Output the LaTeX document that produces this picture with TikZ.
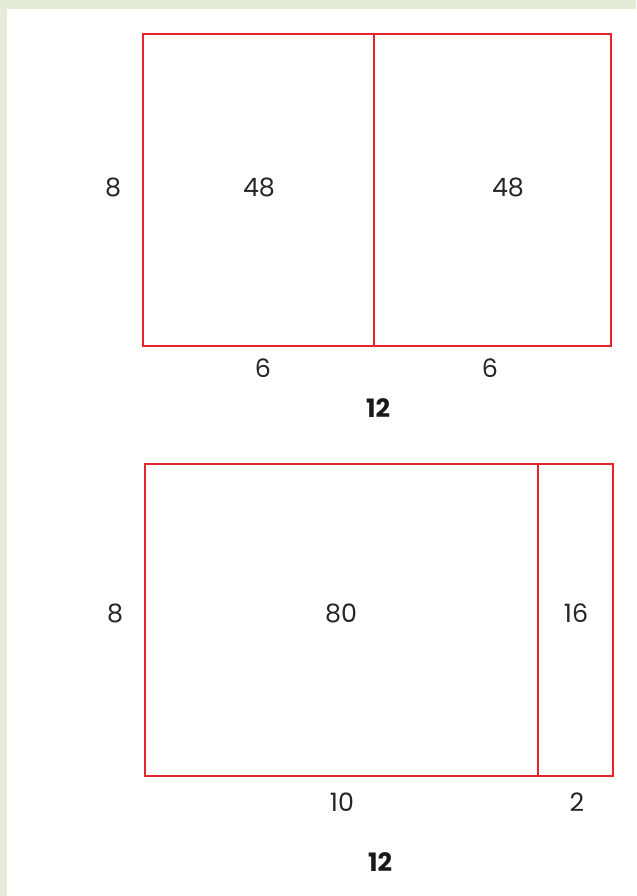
\documentclass[tikz,border=0pt]{standalone}
\usepackage{fontspec}
\setmainfont{Poppins}
\definecolor{boxred}{HTML}{E8232D}
\definecolor{edgegreen}{HTML}{E4EBD9}
\tikzset{
  box/.style={draw=boxred, line width=1.7pt},
  num/.style={font=\fontsize{19}{21}\selectfont, text=black!85, inner sep=0pt},
  total/.style={font=\fontsize{19}{21}\selectfont\bfseries, text=black!90, inner sep=0pt}
}
\begin{document}
\begin{tikzpicture}[x=0.75pt,y=-0.75pt]
\useasboundingbox (0,0) rectangle (636,896);
\fill[white] (0,0) rectangle (636,896);
\fill[edgegreen] (0,0) rectangle (636,9);
\fill[edgegreen] (0,0) rectangle (7,896);
% top figure
\draw[box] (143,34) rectangle (611,346);
\draw[box] (374,34) -- (374,346);
\node[num] (t8) at (113,187) {8};
\node[num] (t48a) at (259,187) {48};
\node[num] (t48b) at (508,187) {48};
\node[num] (t6a) at (263,368) {6};
\node[num] (t6b) at (490,368) {6};
\node[total] (t12) at (378,408) {12};
% bottom figure
\draw[box] (145,464) rectangle (613,776);
\draw[box] (538,464) -- (538,776);
\node[num] (b8) at (115,613) {8};
\node[num] (b80) at (341,613) {80};
\node[num] (b16) at (576,613) {16};
\node[num] (b10) at (342,802) {10};
\node[num] (b2) at (577,802) {2};
\node[total] (b12) at (380,862) {12};
\end{tikzpicture}
\end{document}
